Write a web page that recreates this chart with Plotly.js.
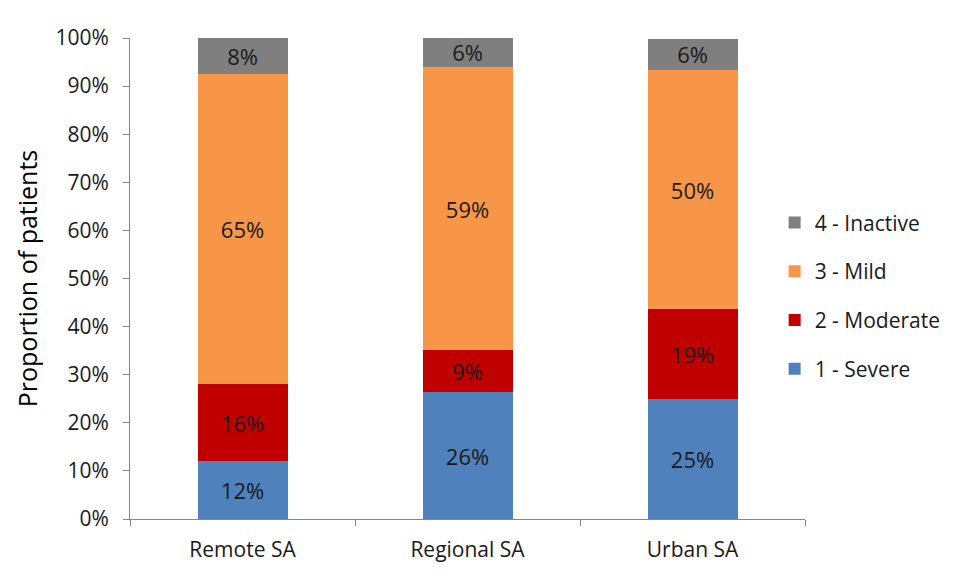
<!DOCTYPE html>
<html>
<head>
<meta charset="utf-8">
<script src="https://cdn.plot.ly/plotly-3.0.1.min.js"></script>
<style>html,body{margin:0;padding:0;background:#fff;}#chart{width:953px;height:580px;}</style>
</head>
<body>
<div id="chart"></div>
<script>
const categories = ["Remote SA", "Regional SA", "Urban SA"];
const severe    = [12.0, 26.4, 25.0];
const moderate  = [16.0, 8.7, 18.6];
const mild      = [64.5, 58.9, 49.8];
const inactive  = [7.5, 6.0, 6.4];
const severeLabels   = ["12%", "26%", "25%"];
const moderateLabels = ["16%", "9%", "19%"];
const mildLabels     = ["65%", "59%", "50%"];
const inactiveLabels = ["8%", "6%", "6%"];
const seriesNames = ["1 - Severe", "2 - Moderate", "3 - Mild", "4 - Inactive"];
const colors = ["#4F81BD", "#C00000", "#F79646", "#7F7F7F"];
const yTickVals = [0,10,20,30,40,50,60,70,80,90,100];
const yTickText = ["0%","10%","20%","30%","40%","50%","60%","70%","80%","90%","100%"];

const FONT = "Open Sans, sans-serif";
const vals = [severe, moderate, mild, inactive];
const labs = [severeLabels, moderateLabels, mildLabels, inactiveLabels];

const traces = vals.map((v, i) => ({
  type: "bar",
  x: categories,
  y: v,
  name: seriesNames[i],
  legendgroup: "g" + i,
  legendrank: 1000 - i,
  text: labs[i],
  texttemplate: "%{text}",
  textposition: "inside",
  insidetextanchor: "middle",
  textangle: 0,
  constraintext: "none",
  textfont: {family: FONT, size: 22, color: "#1a1a1a"},
  marker: {color: colors[i], line: {width: 0}},
  hoverinfo: "skip"
}));

const layout = {
  width: 953, height: 580,
  margin: {l: 130, r: 148, t: 38, b: 61, autoexpand: false},
  paper_bgcolor: "#fff", plot_bgcolor: "#fff",
  barmode: "stack",
  bargap: 0.6,
  font: {family: FONT, size: 21, color: "#1a1a1a"},
  showlegend: true,
  legend: {
    traceorder: "grouped",
    x: 0.955, xanchor: "left", y: 0.464, yanchor: "middle",
    tracegroupgap: 18.5,
    font: {family: FONT, size: 21, color: "#1a1a1a"},
    bgcolor: "rgba(0,0,0,0)"
  },
  xaxis: {
    type: "category",
    showline: true, linecolor: "#868686", linewidth: 1,
    ticks: "outside", tickson: "boundaries", ticklen: 6, tickcolor: "#868686",
    ticklabelstandoff: 12,
    tickfont: {family: FONT, size: 21, color: "#1a1a1a"},
    showgrid: false, zeroline: false,
    automargin: false,
    fixedrange: true
  },
  yaxis: {
    range: [0, 100],
    tickmode: "array",
    tickvals: yTickVals,
    ticktext: yTickText,
    showline: true, linecolor: "#868686", linewidth: 1,
    ticks: "outside", ticklen: 6, tickcolor: "#868686",
    ticklabelstandoff: 10,
    tickfont: {family: FONT, size: 21, color: "#1a1a1a"},
    showgrid: false, zeroline: false,
    automargin: false,
    title: {text: "Proportion of patients", font: {family: FONT, size: 25, color: "#000"}, standoff: 10},
    fixedrange: true
  }
};

Plotly.newPlot("chart", traces, layout, {staticPlot: true, displayModeBar: false});
</script>
</body>
</html>
